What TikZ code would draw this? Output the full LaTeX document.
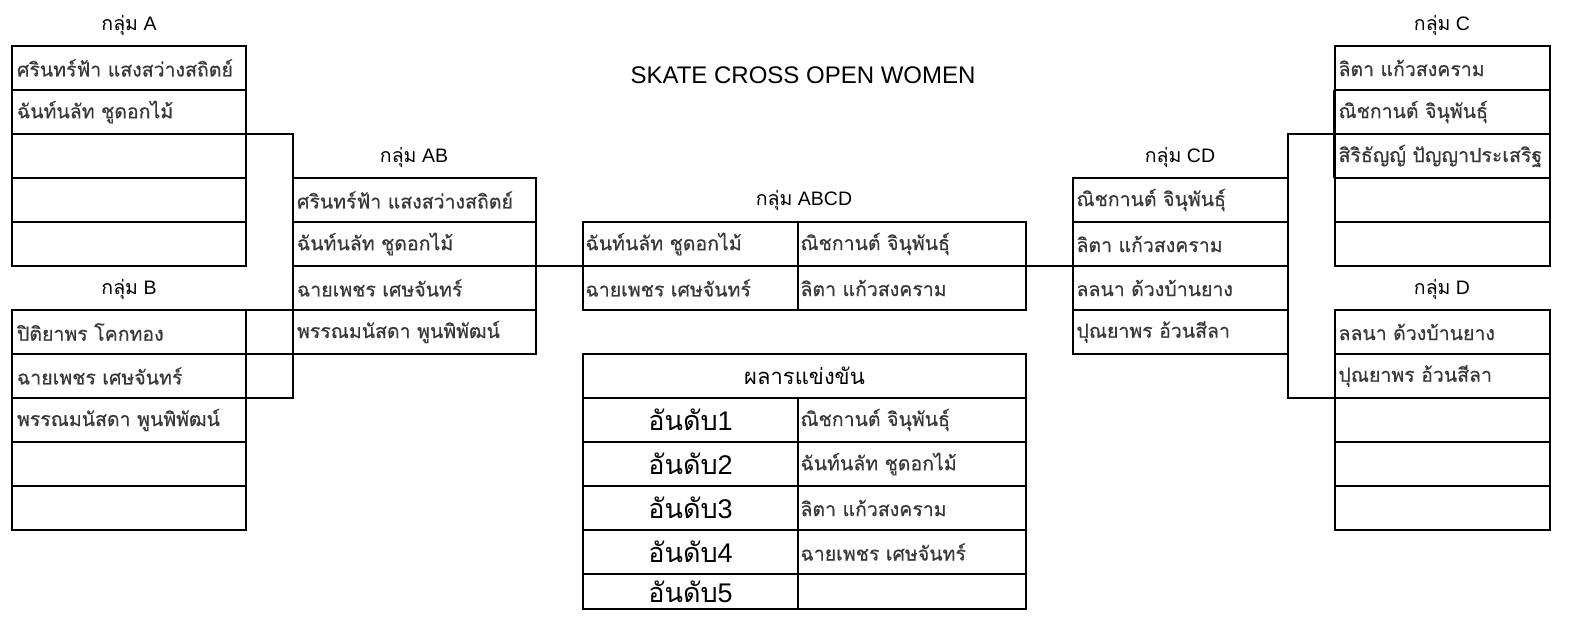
\documentclass[tikz,border=0pt]{standalone}
\usepackage{fontspec}
\setmainfont{Liberation Sans}
\newfontfamily\thaifont[Script=Thai]{Loma}
\newfontfamily\thainame[Script=Thai, FakeBold=0.45]{Loma}
\definecolor{namecol}{HTML}{383838}
\tikzset{
  x=1pt, y=-1pt,
  cell/.style={draw=black, line width=1.1pt, rectangle, anchor=north west,
    minimum height=44pt, inner ysep=0pt, outer sep=0pt, align=left,
    font=\thainame\fontsize{19.5}{22}\selectfont, text=namecol},
  cellA/.style={cell, text width=224pt, inner xsep=5pt},
  cellAB/.style={cell, text width=235pt, inner xsep=4pt},
  cellL/.style={cell, text width=210pt, inner xsep=2.5pt},
  cellR/.style={cell, text width=223pt, inner xsep=2.5pt},
  cellC/.style={cell, text width=208pt, inner xsep=3.5pt},
  rankcell/.style={cell, text width=210pt, inner xsep=2.5pt, align=center,
    text=black, font=\fontsize{27}{29}\selectfont},
  headcell/.style={cell, text width=438pt, inner xsep=2.5pt, align=center,
    text=black, font=\fontsize{22}{24}\selectfont},
  grouptitle/.style={anchor=center, inner sep=0pt, text=black,
    font=\fontsize{19.5}{22}\selectfont},
  link/.style={draw=black, line width=1.1pt}
}
\begin{document}
\begin{tikzpicture}
\useasboundingbox[fill=white] (0,0) rectangle (1572,631);

% title
\node[anchor=center, inner sep=0pt, font=\fontsize{24}{28}\selectfont] (title) at (803,75) {SKATE CROSS OPEN WOMEN};

% group A
\node[grouptitle] (tA) at (129,25) {{\thaifont กลุ่ม} A};
\node[cellA] (a1) at (12,46) {ศรินทร์ฟ้า แสงสว่างสถิตย์};
\node[cellA] (a2) at (a1.south west) {ฉันท์นลัท ชูดอกไม้};
\node[cellA] (a3) at (a2.south west) {};
\node[cellA] (a4) at (a3.south west) {};
\node[cellA] (a5) at (a4.south west) {};

% group B
\node[grouptitle] (tB) at (129,289) {{\thaifont กลุ่ม} B};
\node[cellA] (b1) at (12,310) {ปิติยาพร โคกทอง};
\node[cellA] (b2) at (b1.south west) {ฉายเพชร เศษจันทร์};
\node[cellA] (b3) at (b2.south west) {พรรณมนัสดา พูนพิพัฒน์};
\node[cellA] (b4) at (b3.south west) {};
\node[cellA] (b5) at (b4.south west) {};

% group AB
\node[grouptitle] (tAB) at (414,157) {{\thaifont กลุ่ม} AB};
\node[cellAB] (ab1) at (293,178) {ศรินทร์ฟ้า แสงสว่างสถิตย์};
\node[cellAB] (ab2) at (ab1.south west) {ฉันท์นลัท ชูดอกไม้};
\node[cellAB] (ab3) at (ab2.south west) {ฉายเพชร เศษจันทร์};
\node[cellAB] (ab4) at (ab3.south west) {พรรณมนัสดา พูนพิพัฒน์};

% group ABCD
\node[grouptitle] (tABCD) at (804,200) {{\thaifont กลุ่ม} ABCD};
\node[cellL] (l1) at (583,222) {ฉันท์นลัท ชูดอกไม้};
\node[cellL] (l2) at (l1.south west) {ฉายเพชร เศษจันทร์};
\node[cellR] (r1) at (l1.north east) {ณิชกานต์ จินุพันธุ์};
\node[cellR] (r2) at (l2.north east) {ลิตา แก้วสงคราม};

% results
\node[headcell] (rh) at (583,354) {\thaifont ผลารแข่งขัน};
\node[rankcell] (k1) at (rh.south west) {{\thaifont อันดับ}1};
\node[rankcell] (k2) at (k1.south west) {{\thaifont อันดับ}2};
\node[rankcell] (k3) at (k2.south west) {{\thaifont อันดับ}3};
\node[rankcell] (k4) at (k3.south west) {{\thaifont อันดับ}4};
\node[rankcell, minimum height=35pt] (k5) at (k4.south west) {{\thaifont อันดับ}5};
\node[cellR] (n1) at (k1.north east) {ณิชกานต์ จินุพันธุ์};
\node[cellR] (n2) at (k2.north east) {ฉันท์นลัท ชูดอกไม้};
\node[cellR] (n3) at (k3.north east) {ลิตา แก้วสงคราม};
\node[cellR] (n4) at (k4.north east) {ฉายเพชร เศษจันทร์};
\node[cellR, minimum height=35pt] (n5) at (k5.north east) {};

% group CD
\node[grouptitle] (tCD) at (1180,157) {{\thaifont กลุ่ม} CD};
\node[cellC] (cd1) at (1073,178) {ณิชกานต์ จินุพันธุ์};
\node[cellC] (cd2) at (cd1.south west) {ลิตา แก้วสงคราม};
\node[cellC] (cd3) at (cd2.south west) {ลลนา ด้วงบ้านยาง};
\node[cellC] (cd4) at (cd3.south west) {ปุณยาพร อ้วนสีลา};

% group C
\node[grouptitle] (tC) at (1442,25) {{\thaifont กลุ่ม} C};
\node[cellC] (c1) at (1335,46) {ลิตา แก้วสงคราม};
\node[cellC] (c2) at (c1.south west) {ณิชกานต์ จินุพันธุ์};
\node[cellC] (c3) at (c2.south west) {สิริธัญญ์ ปัญญาประเสริฐ};
\node[cellC] (c4) at (c3.south west) {};
\node[cellC] (c5) at (c4.south west) {};

% group D
\node[grouptitle] (tD) at (1442,289) {{\thaifont กลุ่ม} D};
\node[cellC] (d1) at (1335,310) {ลลนา ด้วงบ้านยาง};
\node[cellC] (d2) at (d1.south west) {ปุณยาพร อ้วนสีลา};
\node[cellC] (d3) at (d2.south west) {};
\node[cellC] (d4) at (d3.south west) {};
\node[cellC] (d5) at (d4.south west) {};

% connectors left
\draw[link] (a3.north east) -| (b2.south east -| ab1.west) -- (b2.south east);
\draw[link] (b1.north east) -- (b1.north east -| ab1.west);
\draw[link] (b2.north east) -- (b2.north east -| ab1.west);
\draw[link] (ab3.north east) -- (l2.north west);

% connectors right
\draw[link] (r2.north east) -- (cd3.north west);
\draw[link] (c3.north west) -| (d2.south west -| cd1.east) -- (d2.south west);
\draw[link, line width=2pt] ([xshift=-0.8pt]c2.north west) -- ([xshift=-0.8pt]c3.south west);
\end{tikzpicture}
\end{document}
